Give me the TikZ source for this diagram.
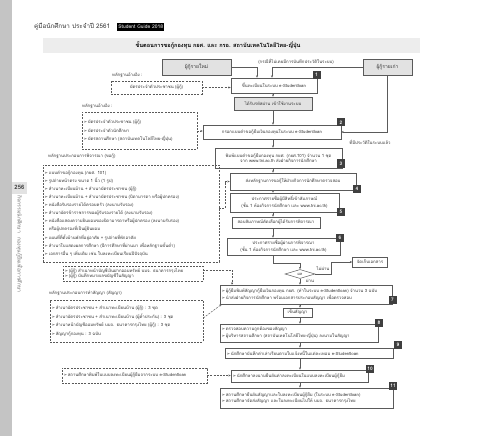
\documentclass[tikz,border=0pt]{standalone}
\usepackage{fontspec}
\setmainfont[Script=Thai]{Loma}
\newfontfamily\symfont{DejaVu Sans}
\usetikzlibrary{arrows.meta,shapes.geometric}
\newcommand\bul{{\symfont ➢}\,}
\newcommand\fs{\fontsize{4.3}{5.4}\selectfont}
\definecolor{sidegray}{HTML}{C4C4C4}
\definecolor{titlegray}{HTML}{EDEDED}
\definecolor{boxgray}{HTML}{E2E2E2}
\definecolor{badge}{HTML}{3F3F3F}
\definecolor{edge}{HTML}{5A5A5A}
\definecolor{txt}{HTML}{333333}
\begin{document}
\begin{tikzpicture}[x=1pt,y=-1pt,
  box/.style={draw=edge, line width=0.5pt, fill=white, inner sep=1.5pt, font=\fs, text=txt, align=center},
  gbox/.style={box, fill=boxgray},
  lbox/.style={box, align=left},
  ev/.style={draw=edge, line width=0.5pt, dash pattern=on 2pt off 1.2pt, inner sep=1.5pt, font=\fs, text=txt, align=left},
  badgest/.style={fill=badge, text=white, font=\bfseries\fontsize{4.8}{5}\selectfont, minimum size=8pt, inner sep=0pt},
  lbl/.style={font=\fs, text=txt, inner sep=0pt},
  flow/.style={draw=edge, line width=0.5pt, -{Stealth[length=2.4pt,width=2pt]}},
  dflow/.style={flow, dash pattern=on 2pt off 1.2pt}]
\useasboundingbox (0,0) rectangle (480,436);
\fill[white] (0,0) rectangle (480,436);
\fill[sidegray] (0,0) rectangle (12,436);
\node[fill=boxgray, minimum width=15, minimum height=12, inner sep=0pt, font=\bfseries\fontsize{6}{6}\selectfont, text=txt] (pg) at (19.5,187.5) {256};
\node[rotate=-90, font=\fontsize{5.2}{6}\selectfont, text=black!55, inner sep=0pt] (side) at (19.5,244) {กิจกรรมนักศึกษา \enspace กองทุนกู้ยืมเพื่อการศึกษา};

% header
\node[anchor=west, font=\fontsize{6.3}{7}\selectfont, text=txt, inner sep=0pt] (hdr) at (34,27) {คู่มือนักศึกษา ประจำปี 2561};
\node[anchor=west, fill=black, text=white, font=\fontsize{5}{5}\selectfont, inner sep=1.2pt, minimum height=8] (sg) at (117,27) {Student Guide 2018};
\node[fill=titlegray, minimum width=377, minimum height=15, inner sep=0pt] (tbar) at (231.5,45.5) {};
\node[font=\bfseries\fontsize{5.6}{6}\selectfont, text=black, inner sep=0pt] (title) at (218,45.5) {ขั้นตอนการขอกู้กองทุน กยศ. และ กรอ. สถาบันเทคโนโลยีไทย-ญี่ปุ่น};

% top
\node[gbox, minimum width=69, minimum height=16, font=\fontsize{5}{6}\selectfont] (new) at (196.5,67) {ผู้กู้รายใหม่};
\node[gbox, minimum width=49, minimum height=16, font=\fontsize{5}{6}\selectfont] (old) at (387.5,67) {ผู้กู้รายเก่า};
\node[lbl] (note) at (296,62) {(กรณีที่ไม่เคยมีการบันทึกประวัติในระบบ)};
\node[box, minimum width=86, minimum height=15] (b1) at (274,85.5) {ขึ้นทะเบียนในระบบ e-Studentloan};
\node[lbl, anchor=west] (ev1l) at (112,75) {หลักฐานอ้างอิง :};
\node[ev, minimum width=91, minimum height=13, align=center] (ev1) at (156.5,87.5) {บัตรประจำตัวประชาชน (ผู้กู้)};
\node[gbox, minimum width=78, minimum height=13] (pw) at (273,103.5) {ได้รับรหัสผ่าน เข้าใช้งานระบบ};
\node[box, minimum width=138, minimum height=14] (b2) at (272,132) {กรอกแบบคำขอกู้ยืมเงินกองทุนในระบบ e-Studentloan};
\node[lbl, anchor=west] (ev2l) at (82,106) {หลักฐานอ้างอิง :};
\node[ev, text width=112, minimum height=37, font=\fontsize{4.3}{8.5}\selectfont] (ev2) at (139.5,131) {\bul บัตรประจำตัวประชาชน (ผู้กู้)\\ \bul บัตรประจำตัวนักศึกษา\\ \bul บัตรสถานศึกษา (สถาบันเทคโนโลยีไทย-ญี่ปุ่น)};

% middle chain
\node[box, minimum width=127, minimum height=20] (b3) at (278.5,158) {พิมพ์แบบคำขอกู้ยืมกองทุน กยศ. (กยศ.101) จำนวน 1 ชุด\\ จาก www.tni.ac.th ส่งฝ่ายกิจการนักศึกษา};
\node[box, minimum width=126, minimum height=17] (b4) at (293,181.5) {ส่งหลักฐานการขอกู้ให้ฝ่ายกิจการนักศึกษาตรวจสอบ};
\node[box, minimum width=109, minimum height=19] (b5) at (284.5,202.5) {ประกาศรายชื่อผู้มีสิทธิ์เข้าสัมภาษณ์\\ (ชั้น 1 ห้องกิจการนักศึกษา และ www.tni.ac.th)};
\node[box, minimum width=88, minimum height=11] (iv) at (276,222.5) {สอบสัมภาษณ์คัดเลือกผู้ได้รับการพิจารณา};
\node[box, minimum width=113, minimum height=17] (b6) at (283.5,246.5) {ประกาศรายชื่อผู้ผ่านการพิจารณา\\ (ชั้น 1 ห้องกิจการนักศึกษา และ www.tni.ac.th)};
\node[diamond, draw=edge, line width=0.5pt, fill=white, minimum width=30, minimum height=9, inner sep=0pt, aspect=3.3, font=\fontsize{4}{4}\selectfont, text=txt] (dec) at (300,274) {ผล};
\node[box, minimum width=35, minimum height=10] (store) at (370,262) {จัดเก็บเอกสาร};
\node[lbox, text width=169, minimum height=19] (b7) at (306,294.5) {\bul ผู้กู้ยืมพิมพ์สัญญากู้ยืมเงินกองทุน กยศ. (ทำในระบบ e-Studentloan) จำนวน 3 ฉบับ\\ \bul นำส่งฝ่ายกิจการนักศึกษา พร้อมเอกสารประกอบสัญญา เพื่อตรวจสอบ};
\node[box, minimum width=29, minimum height=9] (sign) at (297.5,312.5) {เซ็นสัญญา};
\node[lbox, text width=155, minimum height=18] (b8) at (299,333) {\bul ตรวจสอบความถูกต้องของสัญญา\\ \bul ผู้บริหารสถานศึกษา (สถาบันเทคโนโลยีไทย-ญี่ปุ่น) ลงนามในสัญญา};
\node[lbox, text width=165, minimum height=10] (b9) at (309,353) {\bul นักศึกษาบันทึกค่าเล่าเรียนตามใบแจ้งหนี้ในแต่ละเทอม e-Studentloan};
\node[lbox, text width=134, minimum height=12] (b10) at (299.5,376) {\bul นักศึกษาลงนามยืนยันค่าลงทะเบียนในแบบลงทะเบียนผู้กู้ยืม};
\node[lbox, text width=170, minimum height=20] (b11) at (306.5,398) {\bul สถานศึกษายืนยันสัญญาและใบลงทะเบียนผู้กู้ยืม (ในระบบ e-Studentloan)\\ \bul สถานศึกษาจัดส่งสัญญา และใบลงทะเบียนไปให้ บมจ. ธนาคารกรุงไทย};

% evidence boxes left
\node[lbl, anchor=west] (ev3l) at (48,156) {หลักฐานประกอบการพิจารณา (ขอกู้)};
\node[ev, text width=173, minimum height=97, font=\fontsize{4.3}{8.1}\selectfont] (ev3) at (131,213.5) {\bul แบบคำขอกู้กองทุน (กยศ. 101)\\
\bul รูปถ่ายหน้าตรง ขนาด 1 นิ้ว (1 รูป)\\
\bul สำเนาทะเบียนบ้าน + สำเนาบัตรประชาชน (ผู้กู้)\\
\bul สำเนาทะเบียนบ้าน + สำเนาบัตรประชาชน (บิดามารดา หรือผู้ปกครอง)\\
\bul หนังสือรับรองรายได้ครอบครัว (ลงนามรับรอง)\\
\bul สำเนาบัตรข้าราชการของผู้รับรองรายได้ (ลงนามรับรอง)\\
\bul หนังสือแสดงความยินยอมของบิดามารดาหรือผู้ปกครอง (ลงนามรับรอง)\\
\phantom{\bul}หรือผู้ปกครองที่เป็นผู้ยินยอม\\
\bul แผนที่ที่ตั้งบ้านพักที่อยู่อาศัย + รูปถ่ายที่พักอาศัย\\
\bul สำเนาใบแสดงผลการศึกษา (ปีการศึกษาที่ผ่านมา เพื่อหลักฐานขั้นต่ำ)\\
\bul เอกสารอื่น ๆ เพิ่มเติม เช่น ใบลงทะเบียนเรียนปีปัจจุบัน};
\node[ev, text width=137, minimum height=15] (ev4) at (133,273.5) {\bul (ผู้กู้) สำเนาหน้าบัญชีเงินฝากออมทรัพย์ บมจ. ธนาคารกรุงไทย\\ \bul (ผู้กู้) บันทึกหมายเลขบัญชีในสัญญา};
\node[lbl, anchor=west] (ev5l) at (49,293) {หลักฐานประกอบการทำสัญญา (สัญญา)};
\node[ev, text width=150, minimum height=42, font=\fontsize{4.3}{8.5}\selectfont] (ev5) at (126.5,321) {\bul สำเนาบัตรประชาชน + สำเนาทะเบียนบ้าน (ผู้กู้) : 3 ชุด\\
\bul สำเนาบัตรประชาชน + สำเนาทะเบียนบ้าน (ผู้ค้ำประกัน) : 3 ชุด\\
\bul สำเนาหน้าบัญชีออมทรัพย์ บมจ. ธนาคารกรุงไทย (ผู้กู้) : 3 ชุด\\
\bul สัญญากู้กองทุน : 3 ฉบับ};
\node[ev, text width=142, minimum height=15] (ev6) at (134.5,375.5) {\bul สถานศึกษาพิมพ์ใบแบบลงทะเบียนผู้กู้ยืมจากระบบ e-Studentloan};

% badges
\node[badgest] (n1) at (316.5,75) {1};
\node[badgest] (n2) at (341,122.5) {2};
\node[badgest] (n3) at (341,163.5) {3};
\node[badgest] (n4) at (357,189) {4};
\node[badgest] (n5) at (341,211.5) {5};
\node[badgest] (n6) at (340,238) {6};
\node[badgest] (n7) at (392.5,300) {7};
\node[badgest] (n8) at (379,322.5) {8};
\node[badgest] (n9) at (398,344.5) {9};
\node[badgest] (n10) at (370,368.5) {10};
\node[badgest] (n11) at (393,386) {11};

% connectors
\coordinate (sp) at (273,0);
\coordinate (sp2) at (300,0);
\draw[flow] (new.east) -| ([xshift=-17pt]b1.north);
\draw[flow] (old.west) -| ([xshift=-2pt]b1.north);
\draw[dflow] (ev1.east) -- (ev1.east -| b1.west);
\draw[flow] (b1.south -| sp) -- (pw.north -| sp);
\draw[flow] (pw.south -| sp) -- (b2.north -| sp);
\draw[flow] (old.south) |- (b2.east);
\node[lbl] (oldnote) at (370,142) {ที่มีประวัติในระบบแล้ว};
\draw[dflow] (ev2.east) -- (ev2.east -| b2.west);
\draw[flow] (b2.south -| sp) -- (b3.north -| sp);
\draw[flow] (b3.south -| sp) -- (b4.north -| sp);
\draw[flow] (b4.south -| sp) -- (b5.north -| sp);
\draw[flow] (b5.south -| sp) -- (iv.north -| sp);
\draw[flow] (iv.south -| sp) -- (b6.north -| sp);
\draw[flow] (b6.south -| sp) -- ++(0,8) -| (dec.north);
\coordinate (dj) at (331,274);
\draw[flow] (dec.east) -- (dj) |- (store.west);
\node[lbl] (nopass) at (323,269) {ไม่ผ่าน};
\draw[flow] (dec.south) -- (dec.south |- b7.north);
\node[lbl] (pass) at (310,281) {ผ่าน};
\draw[flow] (b7.south -| sp2) -- (sign.north -| sp2);
\draw[flow] (sign.south -| sp2) -- (b8.north -| sp2);
\draw[flow] (b8.south -| sp2) -- (b9.north -| sp2);
\draw[flow] (b9.south -| sp2) -- (b10.north -| sp2);
\draw[flow] (b10.south -| sp2) -- (b11.north -| sp2);
\draw[dflow] ([yshift=5.5pt]ev3.east) -- ++(6,0) |- (b4.west);
\draw[dflow] ([yshift=3.5pt]ev4.east) -| ([xshift=-74pt]b7.north);
\draw[dflow] ([yshift=3pt]ev5.east) -- ([xshift=2pt]b7.south west);
\draw[dflow] (ev6.east) -- (ev6.east -| b10.west);
\end{tikzpicture}
\end{document}
